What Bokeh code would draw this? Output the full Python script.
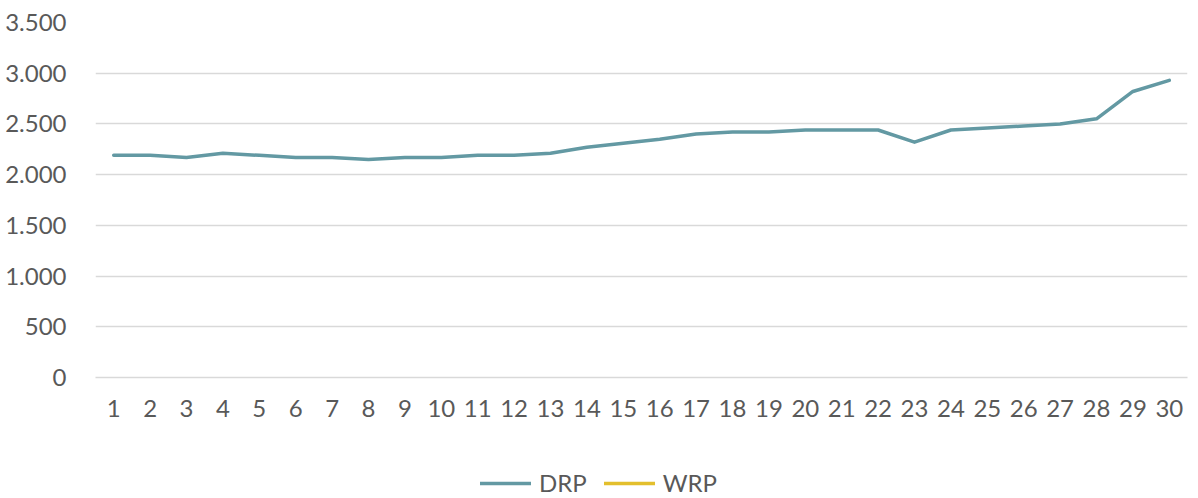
from bokeh.plotting import figure
from bokeh.layouts import column
from bokeh.models import ColumnDataSource, Range1d, Legend, LegendItem, FixedTicker, CustomJSTickFormatter
from bokeh.embed import file_html
from bokeh.resources import INLINE

categories = [str(i) for i in range(1, 31)]
drp = [2190, 2190, 2170, 2210, 2190, 2170, 2170, 2150, 2170, 2170,
       2190, 2190, 2210, 2270, 2310, 2350, 2400, 2420, 2420, 2440,
       2440, 2440, 2320, 2440, 2460, 2480, 2500, 2550, 2820, 2930]
wrp = [None] * 30  # no visible values in the reference
y_ticks = [0, 500, 1000, 1500, 2000, 2500, 3000, 3500]
series_names = ["DRP", "WRP"]
series_colors = ["#6399A3", "#E3BF2D"]

FONT = "Lato"
TXT = "#595959"
GRID = "#d9d9d9"

p = figure(width=1190, height=440, x_range=categories, y_range=Range1d(0, 3500),
           output_backend="svg", toolbar_location=None,
           min_border_left=95, min_border_right=3, min_border_top=22, min_border_bottom=63)
p.outline_line_color = None

src = ColumnDataSource(dict(x=categories, y=drp))
p.line("x", "y", source=src, line_color=series_colors[0], line_width=3.5, line_join="round", line_cap="round")
src2 = ColumnDataSource(dict(x=categories, y=[float("nan") if v is None else v for v in wrp]))
p.line("x", "y", source=src2, line_color=series_colors[1], line_width=3.5, line_cap="round")

p.yaxis.ticker = FixedTicker(ticks=y_ticks)
p.yaxis.formatter = CustomJSTickFormatter(code="return tick.toLocaleString('de-DE');")
p.yaxis.axis_line_color = None
p.yaxis.major_tick_line_color = None
p.yaxis.minor_tick_line_color = None
p.yaxis.major_label_standoff = 23
p.yaxis.major_label_text_font = FONT
p.yaxis.major_label_text_font_size = "24px"
p.yaxis.major_label_text_color = TXT

p.xaxis.axis_line_color = GRID
p.xaxis.axis_line_width = 1.5
p.xaxis.major_tick_line_color = None
p.xaxis.minor_tick_line_color = None
p.xaxis.major_label_standoff = 16
p.xaxis.major_label_text_font = FONT
p.xaxis.major_label_text_font_size = "24px"
p.xaxis.major_label_text_color = TXT

p.xgrid.grid_line_color = None
p.ygrid.grid_line_color = GRID
p.ygrid.grid_line_width = 1.5

# legend strip below the chart
lg = figure(width=1190, height=57, x_range=Range1d(0, 1), y_range=Range1d(0, 1),
            output_backend="svg", toolbar_location=None,
            x_axis_location=None, y_axis_location=None, min_border=0)
lg.outline_line_color = None
lg.xgrid.visible = False
lg.ygrid.visible = False
items = []
for name, col in zip(series_names, series_colors):
    r = lg.line([0, 1], [float("nan"), float("nan")], line_color=col, line_width=3.5, line_cap="round")
    items.append(LegendItem(label=name, renderers=[r]))
legend = Legend(items=items, location=(385, 0), orientation="horizontal",
                glyph_width=51, glyph_height=20, label_height=20, label_standoff=8, spacing=17,
                padding=0, margin=0, border_line_color=None, background_fill_alpha=0,
                label_text_font=FONT, label_text_font_size="24px", label_text_color=TXT)
lg.add_layout(legend, "center")

open("out.html", "w").write(file_html(column(p, lg), INLINE))
